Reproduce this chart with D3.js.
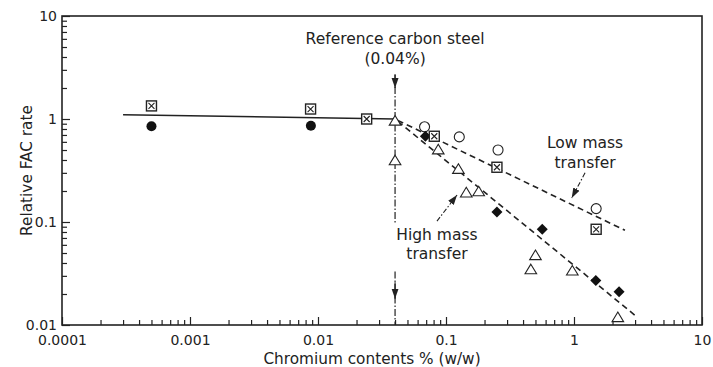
<!DOCTYPE html>
<meta charset="utf-8">
<title>Relative FAC rate vs chromium content</title>
<style>
body { margin: 0; background: #fff; }
text { font-family: "DejaVu Sans", sans-serif; fill: #222; }
</style>
<body>
<script src="https://d3js.org/d3.v7.min.js"></script>
<script>

var width = 713,
    height = 367;
var margin = {top: 16, right: 11, bottom: 42, left: 62};

// data: [chromium %, relative FAC rate]
var crossBox = [[0.0005, 1.34], [0.00875, 1.25], [0.024, 1.0], [0.081, 0.68], [0.25, 0.34], [1.49, 0.085]];
var filledCircle = [[0.0005, 0.85], [0.0088, 0.86]];
var openCircle = [[0.068, 0.84], [0.127, 0.67], [0.255, 0.50], [1.49, 0.135]];
var diamond = [[0.069, 0.68], [0.25, 0.125], [0.565, 0.085], [1.48, 0.027], [2.25, 0.021]];
var triangle = [[0.04, 0.97], [0.04, 0.40], [0.087, 0.51], [0.125, 0.33], [0.144, 0.195], [0.18, 0.20],
                [0.50, 0.048], [0.46, 0.035], [0.97, 0.034], [2.2, 0.012]];

// fitted lines
var baseLine = [[0.0003, 1.1], [0.04, 1.0]];
var lowLine = [[0.042, 0.97], [2.5, 0.083]];
var highLine = [[0.042, 0.95], [3.0, 0.0124]];

var refCr = 0.04;
var xTicks = [0.0001, 0.001, 0.01, 0.1, 1, 10];
var xTickLabels = ["0.0001", "0.001", "0.01", "0.1", "1", "10"];
var yTicks = [0.01, 0.1, 1, 10];
var yTickLabels = ["0.01", "0.1", "1", "10"];

var svg = d3.select("body").append("svg")
    .attr("width", width)
    .attr("height", height);

var x = d3.scaleLog().domain([1e-4, 10]).range([margin.left, width - margin.right]);
var y = d3.scaleLog().domain([0.01, 10]).range([height - margin.bottom, margin.top]);

function minors(ticks) {
    var out = [];
    for (var i = 0; i < ticks.length - 1; i++) {
        for (var k = 2; k <= 9; k++) out.push(ticks[i] * k);
    }
    return out;
}

// x axis: minor ticks then majors with labels
svg.append("g")
    .attr("transform", "translate(0," + y.range()[0] + ")")
    .call(d3.axisBottom(x).tickValues(minors(xTicks)).tickSize(-5).tickFormat(""))
    .call(function(g) { g.select(".domain").remove(); });

svg.append("g")
    .attr("class", "xaxis")
    .attr("transform", "translate(0," + y.range()[0] + ")")
    .call(d3.axisBottom(x).tickValues(xTicks).tickSize(-8).tickPadding(10)
        .tickFormat(function(d, i) { return xTickLabels[i]; }))
    .call(function(g) { g.select(".domain").remove(); });

svg.append("g")
    .attr("transform", "translate(" + x.range()[0] + ",0)")
    .call(d3.axisLeft(y).tickValues(minors(yTicks)).tickSize(-5).tickFormat(""))
    .call(function(g) { g.select(".domain").remove(); });

svg.append("g")
    .attr("class", "yaxis")
    .attr("transform", "translate(" + x.range()[0] + ",0)")
    .call(d3.axisLeft(y).tickValues(yTicks).tickSize(-8).tickPadding(5)
        .tickFormat(function(d, i) { return yTickLabels[i]; }))
    .call(function(g) { g.select(".domain").remove(); });

svg.selectAll(".tick line").attr("stroke", "#222").attr("stroke-width", 1.2);
svg.selectAll(".tick text").style("font-size", "14px").attr("fill", "#222");

// frame
svg.append("rect")
    .attr("x", x.range()[0])
    .attr("y", y.range()[1])
    .attr("width", x.range()[1] - x.range()[0])
    .attr("height", y.range()[0] - y.range()[1])
    .attr("fill", "none")
    .attr("stroke", "#222")
    .attr("stroke-width", 1.6);

// axis titles
svg.append("text")
    .attr("x", 372)
    .attr("y", 364)
    .attr("text-anchor", "middle")
    .style("font-size", "15.3px")
    .text("Chromium contents % (w/w)");

svg.append("text")
    .attr("transform", "translate(32," + (y.range()[0] + y.range()[1]) / 2 + ") rotate(-90)")
    .attr("text-anchor", "middle")
    .style("font-size", "15.3px")
    .text("Relative FAC rate");

// arrow marker
svg.append("defs").append("marker")
    .attr("id", "arrow")
    .attr("viewBox", "0 0 10 10")
    .attr("refX", 10).attr("refY", 5)
    .attr("markerWidth", 10).attr("markerHeight", 10)
    .attr("markerUnits", "userSpaceOnUse")
    .attr("orient", "auto")
    .append("path")
    .attr("d", "M0,1.5L10,5L0,8.5Z")
    .attr("fill", "#222");

var line = d3.line().x(function(d) { return x(d[0]); }).y(function(d) { return y(d[1]); });

// reference carbon steel line (dash-dot, broken round the label)
var refSegs = [[[refCr, 2.7], [refCr, 0.098]], [[refCr, 0.033], [refCr, 0.01]]];
svg.selectAll(".ref").data(refSegs).enter().append("path")
    .attr("class", "ref")
    .attr("d", line)
    .attr("fill", "none")
    .attr("stroke", "#222")
    .attr("stroke-width", 1.2)
    .attr("stroke-dasharray", "7,2,1.5,2");

var refArrows = [[[refCr, 2.7], [refCr, 2.0]], [[refCr, 0.026], [refCr, 0.018]]];
svg.selectAll(".refarrow").data(refArrows).enter().append("path")
    .attr("d", line)
    .attr("stroke", "#222")
    .attr("stroke-width", 1.2)
    .attr("marker-end", "url(#arrow)");

// fitted lines
svg.append("path").attr("d", line(baseLine))
    .attr("fill", "none").attr("stroke", "#222").attr("stroke-width", 1.5);
svg.selectAll(".fit").data([lowLine, highLine]).enter().append("path")
    .attr("class", "fit")
    .attr("d", line)
    .attr("fill", "none")
    .attr("stroke", "#222")
    .attr("stroke-width", 1.6)
    .attr("stroke-dasharray", "6,4");

// markers
var r = 5;
svg.selectAll(".fc").data(filledCircle).enter().append("circle")
    .attr("cx", function(d) { return x(d[0]); })
    .attr("cy", function(d) { return y(d[1]); })
    .attr("r", r).attr("fill", "#111");

svg.selectAll(".oc").data(openCircle).enter().append("circle")
    .attr("cx", function(d) { return x(d[0]); })
    .attr("cy", function(d) { return y(d[1]); })
    .attr("r", r).attr("fill", "#fff").attr("stroke", "#222").attr("stroke-width", 1.1);

svg.selectAll(".dm").data(diamond).enter().append("path")
    .attr("transform", function(d) { return "translate(" + x(d[0]) + "," + y(d[1]) + ")"; })
    .attr("d", "M0,-5.5L5.5,0L0,5.5L-5.5,0Z")
    .attr("fill", "#111");

svg.selectAll(".tr").data(triangle).enter().append("path")
    .attr("transform", function(d) { return "translate(" + x(d[0]) + "," + y(d[1]) + ")"; })
    .attr("d", "M0,-4.8L5.8,4.8L-5.8,4.8Z")
    .attr("fill", "#fff").attr("stroke", "#222").attr("stroke-width", 1.1);

var cb = svg.selectAll(".cb").data(crossBox).enter().append("g")
    .attr("transform", function(d) { return "translate(" + x(d[0]) + "," + y(d[1]) + ")"; });
cb.append("rect").attr("x", -5).attr("y", -5).attr("width", 10).attr("height", 10)
    .attr("fill", "#fff").attr("stroke", "#222").attr("stroke-width", 1.4);
cb.append("path").attr("d", "M-3,-3L3,3M3,-3L-3,3")
    .attr("stroke", "#222").attr("stroke-width", 1.1);

// annotations
var notes = [
    {lines: ["Reference carbon steel", "(0.04%)"], at: [refCr, 5.4], step: 20},
    {lines: ["Low mass", "transfer"], at: [1.22, 0.52], step: 20},
    {lines: ["High mass", "transfer"], at: [0.085, 0.067], step: 19}
];
notes.forEach(function(n) {
    n.lines.forEach(function(t, i) {
        svg.append("text")
            .attr("x", x(n.at[0]))
            .attr("y", y(n.at[1]) + i * n.step)
            .attr("text-anchor", "middle")
            .style("font-size", "15.5px")
            .text(t);
    });
});

var pointers = [
    [[1.22, 0.30], [0.96, 0.171]],
    [[0.085, 0.102], [0.122, 0.183]]
];
svg.selectAll(".ptr").data(pointers).enter().append("path")
    .attr("d", line)
    .attr("fill", "none")
    .attr("stroke", "#222")
    .attr("stroke-width", 1.1)
    .attr("stroke-dasharray", "5,2,1.5,2")
    .attr("marker-end", "url(#arrow)");

</script>
